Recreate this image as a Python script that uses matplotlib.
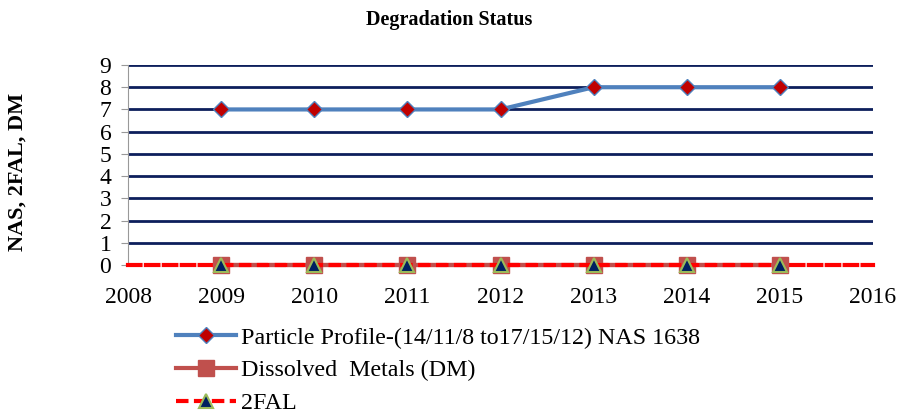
import matplotlib.pyplot as plt
import numpy as np

plt.rcParams['font.family'] = ['Liberation Serif', 'DejaVu Serif']

years = [2009, 2010, 2011, 2012, 2013, 2014, 2015]
particle = [7, 7, 7, 7, 8, 8, 8]
dissolved = [0, 0, 0, 0, 0, 0, 0]
fal2 = [0, 0, 0, 0, 0, 0, 0]

fig = plt.figure(figsize=(8.99, 4.15), dpi=100)
ax = fig.add_axes([128 / 899, 1 - 265 / 415, (873 - 128) / 899, 200 / 415])

ax.set_xlim(2008, 2016)
ax.set_ylim(0, 9)
ax.set_yticks(range(0, 10))
ax.set_xticks(range(2008, 2017))

# gridlines
for yv in range(1, 10):
    ax.axhline(yv, color='#0d1f5c', lw=2, zorder=1)

ax.plot(years, particle, color='#4f81bd', lw=3, marker='D', ms=8,
        mfc='#c00000', mec='#4f81bd', mew=1, clip_on=False,
        label='Particle Profile-(14/11/8 to17/15/12) NAS 1638', zorder=3)
ax.plot(years, dissolved, color='#c0504d', lw=3, marker='s', ms=12,
        mfc='#c0504d', mec='#c0504d', clip_on=False,
        label='Dissolved  Metals (DM)', zorder=3)
ax.plot(years, fal2, color='#ff0000', lw=3, ls=(0, (3, 1.3)), marker='^', ms=10,
        mfc='#002060', mec='#9bbb59', mew=1.5, clip_on=False,
        label='2FAL', zorder=4)

for s in ['top', 'right']:
    ax.spines[s].set_visible(False)
ax.spines['left'].set_color('#999999')
ax.spines['bottom'].set_color('#ff0000')
ax.spines['bottom'].set_linewidth(3)
ax.spines['bottom'].set_linestyle((0, (3, 1.3)))

ax.tick_params(axis='y', length=5, color='#999999', labelsize=17, pad=7)
ax.tick_params(axis='x', length=0, labelsize=17, pad=16)

fig.text(0.5, 1 - 20 / 415, 'Degradation Status', ha='center', va='center',
         fontsize=14.5, fontweight='bold')
fig.text(18 / 899, 1 - 172 / 415, 'NAS, 2FAL, DM', ha='center', va='center',
         rotation=90, fontsize=16, fontweight='bold')

fig.legend(loc='upper left', bbox_to_anchor=(176 / 899, 1 - 327 / 415),
           frameon=False, fontsize=17.3, handlelength=2.5, handletextpad=0.2,
           labelspacing=0.45, borderaxespad=0, borderpad=0)

fig.savefig('out.png', dpi=100)
